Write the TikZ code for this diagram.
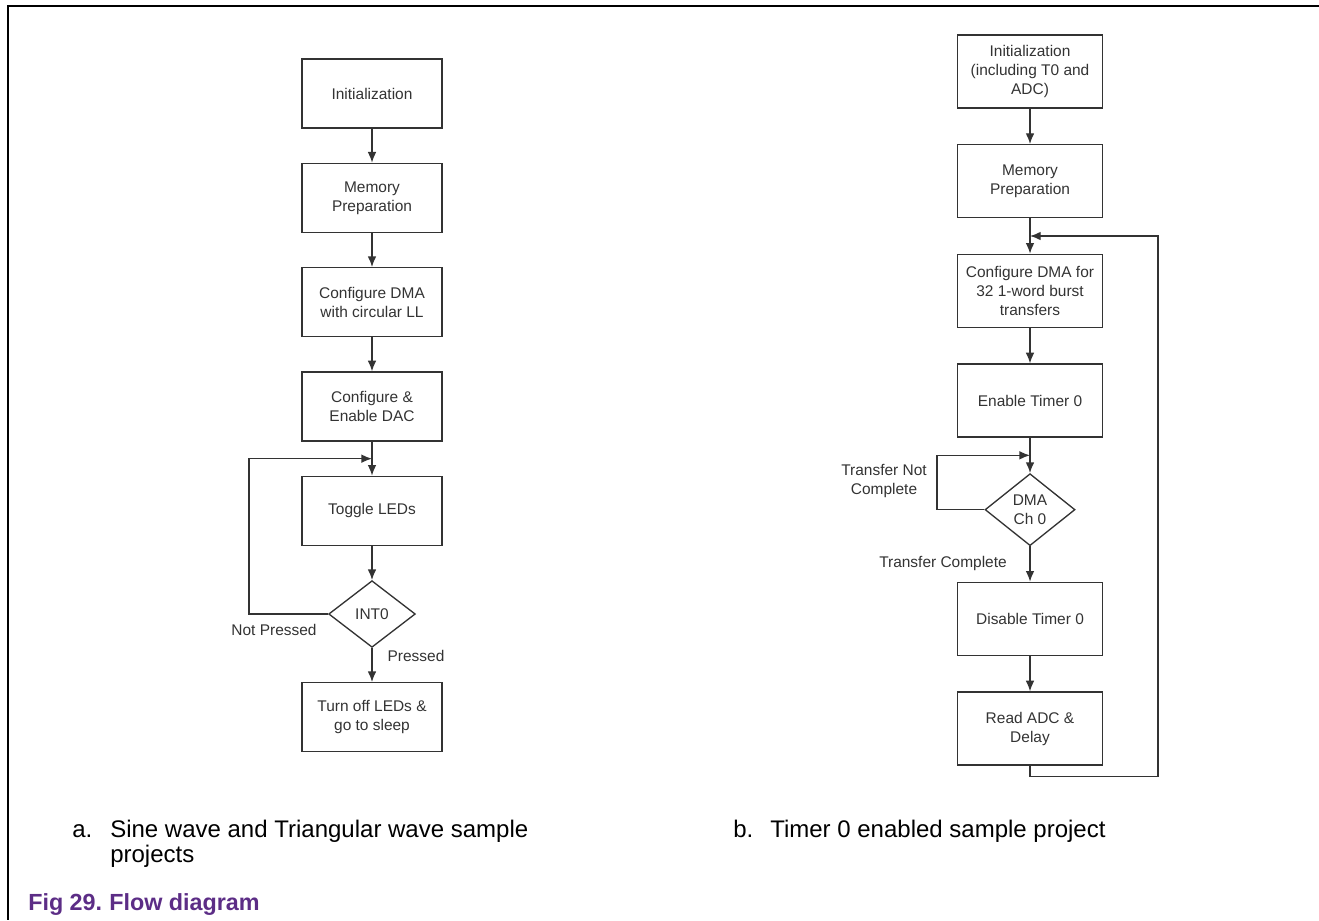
\documentclass[tikz,border=0pt]{standalone}
\usepackage{fontspec}
\setmainfont{Liberation Sans}
\usetikzlibrary{positioning,shapes.geometric,calc,arrows.meta}

\definecolor{figpurple}{RGB}{92,45,134}
\definecolor{boxgray}{RGB}{51,51,51}

\begin{document}
\begin{tikzpicture}[
    x=0.75pt, y=-0.75pt,
    node distance=25.5pt,
    every node/.style={font=\fontsize{11.6}{14.25}\selectfont},
    process/.style={rectangle, draw=boxgray, line width=1pt, text=boxgray, minimum width=105pt, minimum height=51.75pt, align=center, inner sep=2pt},
    rprocess/.style={process, minimum width=109pt, minimum height=54.75pt},
    decision/.style={diamond, draw=boxgray, line width=1pt, text=boxgray, minimum width=65pt, minimum height=50pt, align=center, inner sep=0pt},
    note/.style={text=boxgray, align=center},
    caption/.style={font=\fontsize{18}{18.75}\selectfont, anchor=base west, inner sep=0pt},
    arrow/.style={-{Latex[length=8pt,width=6.5pt]}, line width=1pt, draw=boxgray}
]
\useasboundingbox (0,0) rectangle (1319,920);

% Frame
\draw[line width=1.5pt] (1319,6) -- (8,6) -- (8,920);

% Nodes (a)
\node[process] (init) at (372,93.5) {Initialization};
\node[process, below=of init] (mem) {Memory\\Preparation};
\node[process, below=of mem] (cdma) {Configure DMA\\with circular LL};
\node[process, below=of cdma] (cdac) {Configure \&\\Enable DAC};
\node[process, below=of cdac] (toggle) {Toggle LEDs};
\node[decision, below=of toggle] (int0) {INT0};
\node[process, below=of int0] (sleep) {Turn off LEDs \&\\go to sleep};

\node[note] (notpressed) at (274,630) {Not Pressed};
\node[note] (pressed) at (416,656) {Pressed};

% Nodes (b)
\node[rprocess] (rinit) at (1030,71.5) {Initialization\\(including T0 and\\ADC)};
\node[rprocess, below=26.5pt of rinit] (rmem) {Memory\\Preparation};
\node[rprocess, below=26.5pt of rmem] (rdma) {Configure DMA for\\32 1-word burst\\transfers};
\node[rprocess, below=26.5pt of rdma] (rtimer) {Enable Timer 0};
\node[decision, minimum width=67.5pt, minimum height=54pt, below=26.5pt of rtimer] (dmach) {DMA\\Ch 0};
\node[rprocess, below=26.5pt of dmach] (rdisable) {Disable Timer 0};
\node[rprocess, below=26.5pt of rdisable] (rread) {Read ADC \&\\Delay};

\node[note] (notcomplete) at (884,481) {Transfer Not\\Complete};
\node[note] (complete) at (943,563) {Transfer Complete};

% Joins
\coordinate (ljoin) at ($(cdac.south)!.5!(toggle.north)$);
\coordinate (lloop) at ($(ljoin)+(-123,0)$);
\coordinate (rjoin) at ($(rmem.south)!.5!(rdma.north)$);
\coordinate (rout) at ($(rread.south)+(128,11)$);
\coordinate (djoin) at ($(rtimer.south)!.5!(dmach.north)$);
\coordinate (dloop) at ($(djoin)+(-93,0)$);

% Arrows (a)
\draw[arrow] (init) -- (mem);
\draw[arrow] (mem) -- (cdma);
\draw[arrow] (cdma) -- (cdac);
\draw[arrow] (cdac) -- (toggle);
\draw[arrow] (toggle) -- (int0);
\draw[arrow] (int0) -- (sleep);
\draw[arrow] (int0.west) -| (lloop) -- (ljoin);

% Arrows (b)
\draw[arrow] (rinit) -- (rmem);
\draw[arrow] (rmem) -- (rdma);
\draw[arrow] (rdma) -- (rtimer);
\draw[arrow] (rtimer) -- (dmach);
\draw[arrow] (dmach) -- (rdisable);
\draw[arrow] (rdisable) -- (rread);
\draw[arrow] (dmach.west) -| (dloop) -- (djoin);
\draw[arrow] (rread.south) |- (rout) |- (rjoin);

% Captions
\node[caption] (capa) at (72,837) {a.};
\node[caption] (capatext) at (110,837) {Sine wave and Triangular wave sample};
\node[caption] (capatextb) at (110,862) {projects};
\node[caption] (capb) at (733,837) {b.};
\node[caption] (capbtext) at (770,837) {Timer 0 enabled sample project};
\node[caption, font=\bfseries\fontsize{17.5}{20}\selectfont, text=figpurple] (figtitle) at (28,910) {\makebox[60.75pt][l]{Fig 29.}Flow diagram};

\end{tikzpicture}
\end{document}
